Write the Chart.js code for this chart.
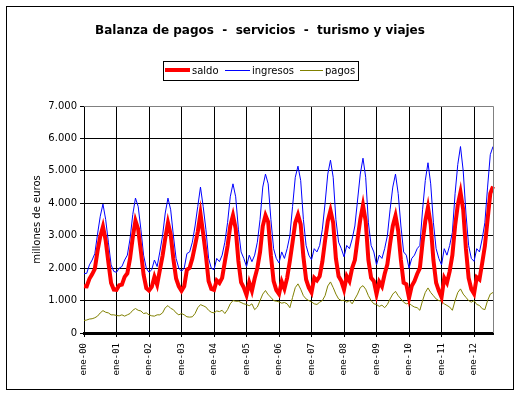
<!DOCTYPE html>
<html>
<head>
<meta charset="utf-8">
<script src="https://cdn.jsdelivr.net/npm/chart.js@4/dist/chart.umd.min.js"></script>
<style>
  html,body{margin:0;padding:0;background:#fff;}
  #wrap{width:520px;height:396px;}
</style>
</head>
<body>
<div id="wrap"><canvas id="c" width="520" height="396"></canvas></div>
<script>
const titleText = "Balanza de pagos  -  servicios  -  turismo y viajes";
const yAxisTitle = "millones de euros";
const monthNames = ['ene','feb','mar','abr','may','jun','jul','ago','sep','oct','nov','dic'];
const yearLabels = ['00','01','02','03','04','05','06','07','08','09','10','11','12'];
const seriesNames = ['saldo','ingresos','pagos'];

const saldo = [
 1445,1440,1670,1810,1980,2530,2980,3285,2860,2180,1540,1340,
 1330,1470,1490,1730,1840,2300,2950,3460,3200,2520,1800,1380,
 1310,1420,1730,1490,1940,2380,2920,3400,3040,2280,1680,1440,
 1300,1440,1950,2010,2300,2700,3120,3680,3060,2400,1600,1360,
 1330,1620,1540,1700,2200,2680,3300,3625,3220,2220,1560,1400,
 1170,1560,1300,1680,2000,2500,3300,3625,3420,2400,1600,1320,
 1200,1580,1360,1700,2220,2800,3400,3645,3350,2350,1650,1400,
 1250,1700,1620,1750,2200,2850,3450,3780,3400,2300,1750,1600,
 1340,1750,1600,2000,2250,2900,3500,3945,3450,2250,1700,1600,
 1200,1580,1440,1820,2120,2750,3300,3615,3150,2250,1550,1500,
 1080,1450,1600,1820,2000,2800,3450,3880,3350,2250,1550,1300,
 1100,1700,1550,1900,2400,3300,3950,4345,3800,2600,1700,1350,
 1210,1720,1650,2150,2680,3500,4300,4520
];
const ingresos = [
 1830,1840,2100,2250,2450,3050,3600,3975,3500,2800,2100,1900,
 1870,2000,2050,2250,2400,2900,3650,4160,3900,3200,2400,2000,
 1870,1950,2250,2050,2500,3000,3700,4160,3800,3000,2300,2000,
 1900,2000,2450,2500,2800,3300,3900,4500,3900,3200,2300,2000,
 1950,2300,2200,2400,2800,3400,4200,4600,4200,3200,2500,2300,
 2050,2400,2200,2400,2800,3500,4500,4900,4600,3500,2600,2300,
 2160,2500,2300,2600,3000,3900,4800,5145,4700,3500,2700,2400,
 2260,2600,2500,2700,3200,4000,4900,5330,4800,3500,2800,2600,
 2350,2700,2600,2900,3300,4100,4900,5390,4800,3400,2700,2500,
 2100,2400,2300,2600,3000,3800,4500,4900,4300,3300,2500,2400,
 2000,2300,2400,2600,2700,3800,4700,5250,4600,3400,2600,2300,
 2100,2600,2400,2700,3100,4300,5200,5750,5000,3700,2700,2300,
 2210,2600,2500,2900,3400,4500,5500,5750
];
const pagos = [
 385,400,430,440,470,520,620,690,640,620,560,560,
 540,530,560,520,560,600,700,755,700,680,600,620,
 560,530,520,560,560,620,780,845,760,720,620,560,
 600,560,500,490,500,600,780,875,840,800,700,640,
 620,680,660,700,600,720,900,1000,980,980,940,900,
 880,840,900,720,800,1000,1200,1310,1180,1100,1000,980,
 960,920,940,900,780,1100,1400,1515,1350,1150,1050,1000,
 960,900,880,950,1000,1150,1450,1575,1400,1200,1050,1000,
 1010,950,1000,900,1050,1200,1400,1460,1350,1150,1000,900,
 880,820,860,780,880,1050,1200,1285,1150,1050,950,900,
 920,850,800,780,700,1000,1250,1390,1250,1150,1050,1000,
 980,900,850,800,700,1000,1250,1360,1200,1100,1000,950,
 1000,880,850,750,720,1000,1200,1250
];
const yTicks = [0,1000,2000,3000,4000,5000,6000,7000];

const labels = [];
for (const y of yearLabels) for (const m of monthNames) labels.push(m + '-' + y);
labels.length = saldo.length;

const colors = ['#ff0000','#0000ff','#808000'];
const widths = [4,1,1];

const decor = {
  id:'decor',
  beforeDraw(chart){
    const ctx = chart.ctx;
    ctx.save();
    ctx.fillStyle='#fff';
    ctx.fillRect(0,0,chart.width,chart.height);
    ctx.restore();
  },
  afterDraw(chart){
    const ctx = chart.ctx;
    const a = chart.chartArea;
    ctx.save();
    ctx.strokeStyle='#000'; ctx.lineWidth=1;
    ctx.strokeRect(6.5,6.5,507,383);
    ctx.strokeStyle='#808080';
    ctx.beginPath();
    ctx.moveTo(a.left, Math.round(a.top)+0.5);
    ctx.lineTo(Math.round(a.right)+0.5, Math.round(a.top)+0.5);
    ctx.lineTo(Math.round(a.right)+0.5, a.bottom);
    ctx.stroke();
    ctx.fillStyle='#000';
    ctx.font='bold 12px "DejaVu Sans"';
    ctx.textAlign='center'; ctx.textBaseline='middle';
    ctx.fillText(titleText, 260, 31);
    ctx.strokeStyle='#000'; ctx.lineWidth=1;
    ctx.strokeRect(163.5,61.5,195,19);
    ctx.font='10px "DejaVu Sans"';
    ctx.textAlign='left';
    const lx=[165,225,300], lw=[25,25,23];
    for(let i=0;i<3;i++){
      ctx.strokeStyle=colors[i]; ctx.lineWidth=widths[i];
      ctx.beginPath();
      const yy = widths[i]%2 ? 70.5 : 70;
      ctx.moveTo(lx[i],yy); ctx.lineTo(lx[i]+lw[i],yy); ctx.stroke();
      ctx.fillStyle='#000';
      ctx.fillText(seriesNames[i], lx[i]+lw[i]+2, 71);
    }
    ctx.restore();
  }
};

new Chart(document.getElementById('c'), {
  type:'line',
  data:{
    labels: labels,
    datasets:[
      {label:seriesNames[0], data:saldo, borderColor:colors[0], borderWidth:widths[0], pointRadius:0, tension:0, fill:false},
      {label:seriesNames[1], data:ingresos, borderColor:colors[1], borderWidth:widths[1], pointRadius:0, tension:0, fill:false},
      {label:seriesNames[2], data:pagos, borderColor:colors[2], borderWidth:widths[2], pointRadius:0, tension:0, fill:false}
    ]
  },
  options:{
    responsive:false,
    animation:false,
    devicePixelRatio:1,
    layout:{padding:{left:8,right:27,top:106,bottom:11}},
    plugins:{legend:{display:false}, title:{display:false}, tooltip:{enabled:false}},
    scales:{
      x:{
        type:'category',
        offset:false,
        afterFit(s){ s.height = 52; },
        border:{color:'#000', width:3},
        grid:{color:'#000', lineWidth:1, drawTicks:true, tickLength:4, tickColor:'#000'},
        ticks:{
          autoSkip:false, maxRotation:90, minRotation:90, padding:6,
          font:{family:'"DejaVu Sans Mono"', size:9}, color:'#000',
          callback(v,i){ return i%12===0 ? labels[i] : null; }
        }
      },
      y:{
        min:0, max:7000,
        afterFit(s){ s.width = 76; },
        afterBuildTicks(s){ s.ticks = yTicks.map(v=>({value:v})); },
        border:{color:'#000', width:1},
        grid:{color:(c)=> (c.tick && c.tick.value===7000) ? '#808080' : '#000', lineWidth:1, tickLength:4, tickColor:'#000'},
        ticks:{
          font:{family:'"DejaVu Sans"', size:10}, color:'#000', padding:3,
          callback(v){ return v===0 ? '0' : (v/1000)+'.000'; }
        },
        title:{display:true, text:yAxisTitle, font:{family:'"DejaVu Sans"', size:10}, color:'#000', padding:{top:23,bottom:0}}
      }
    }
  },
  plugins:[decor]
});
</script>
</body>
</html>
